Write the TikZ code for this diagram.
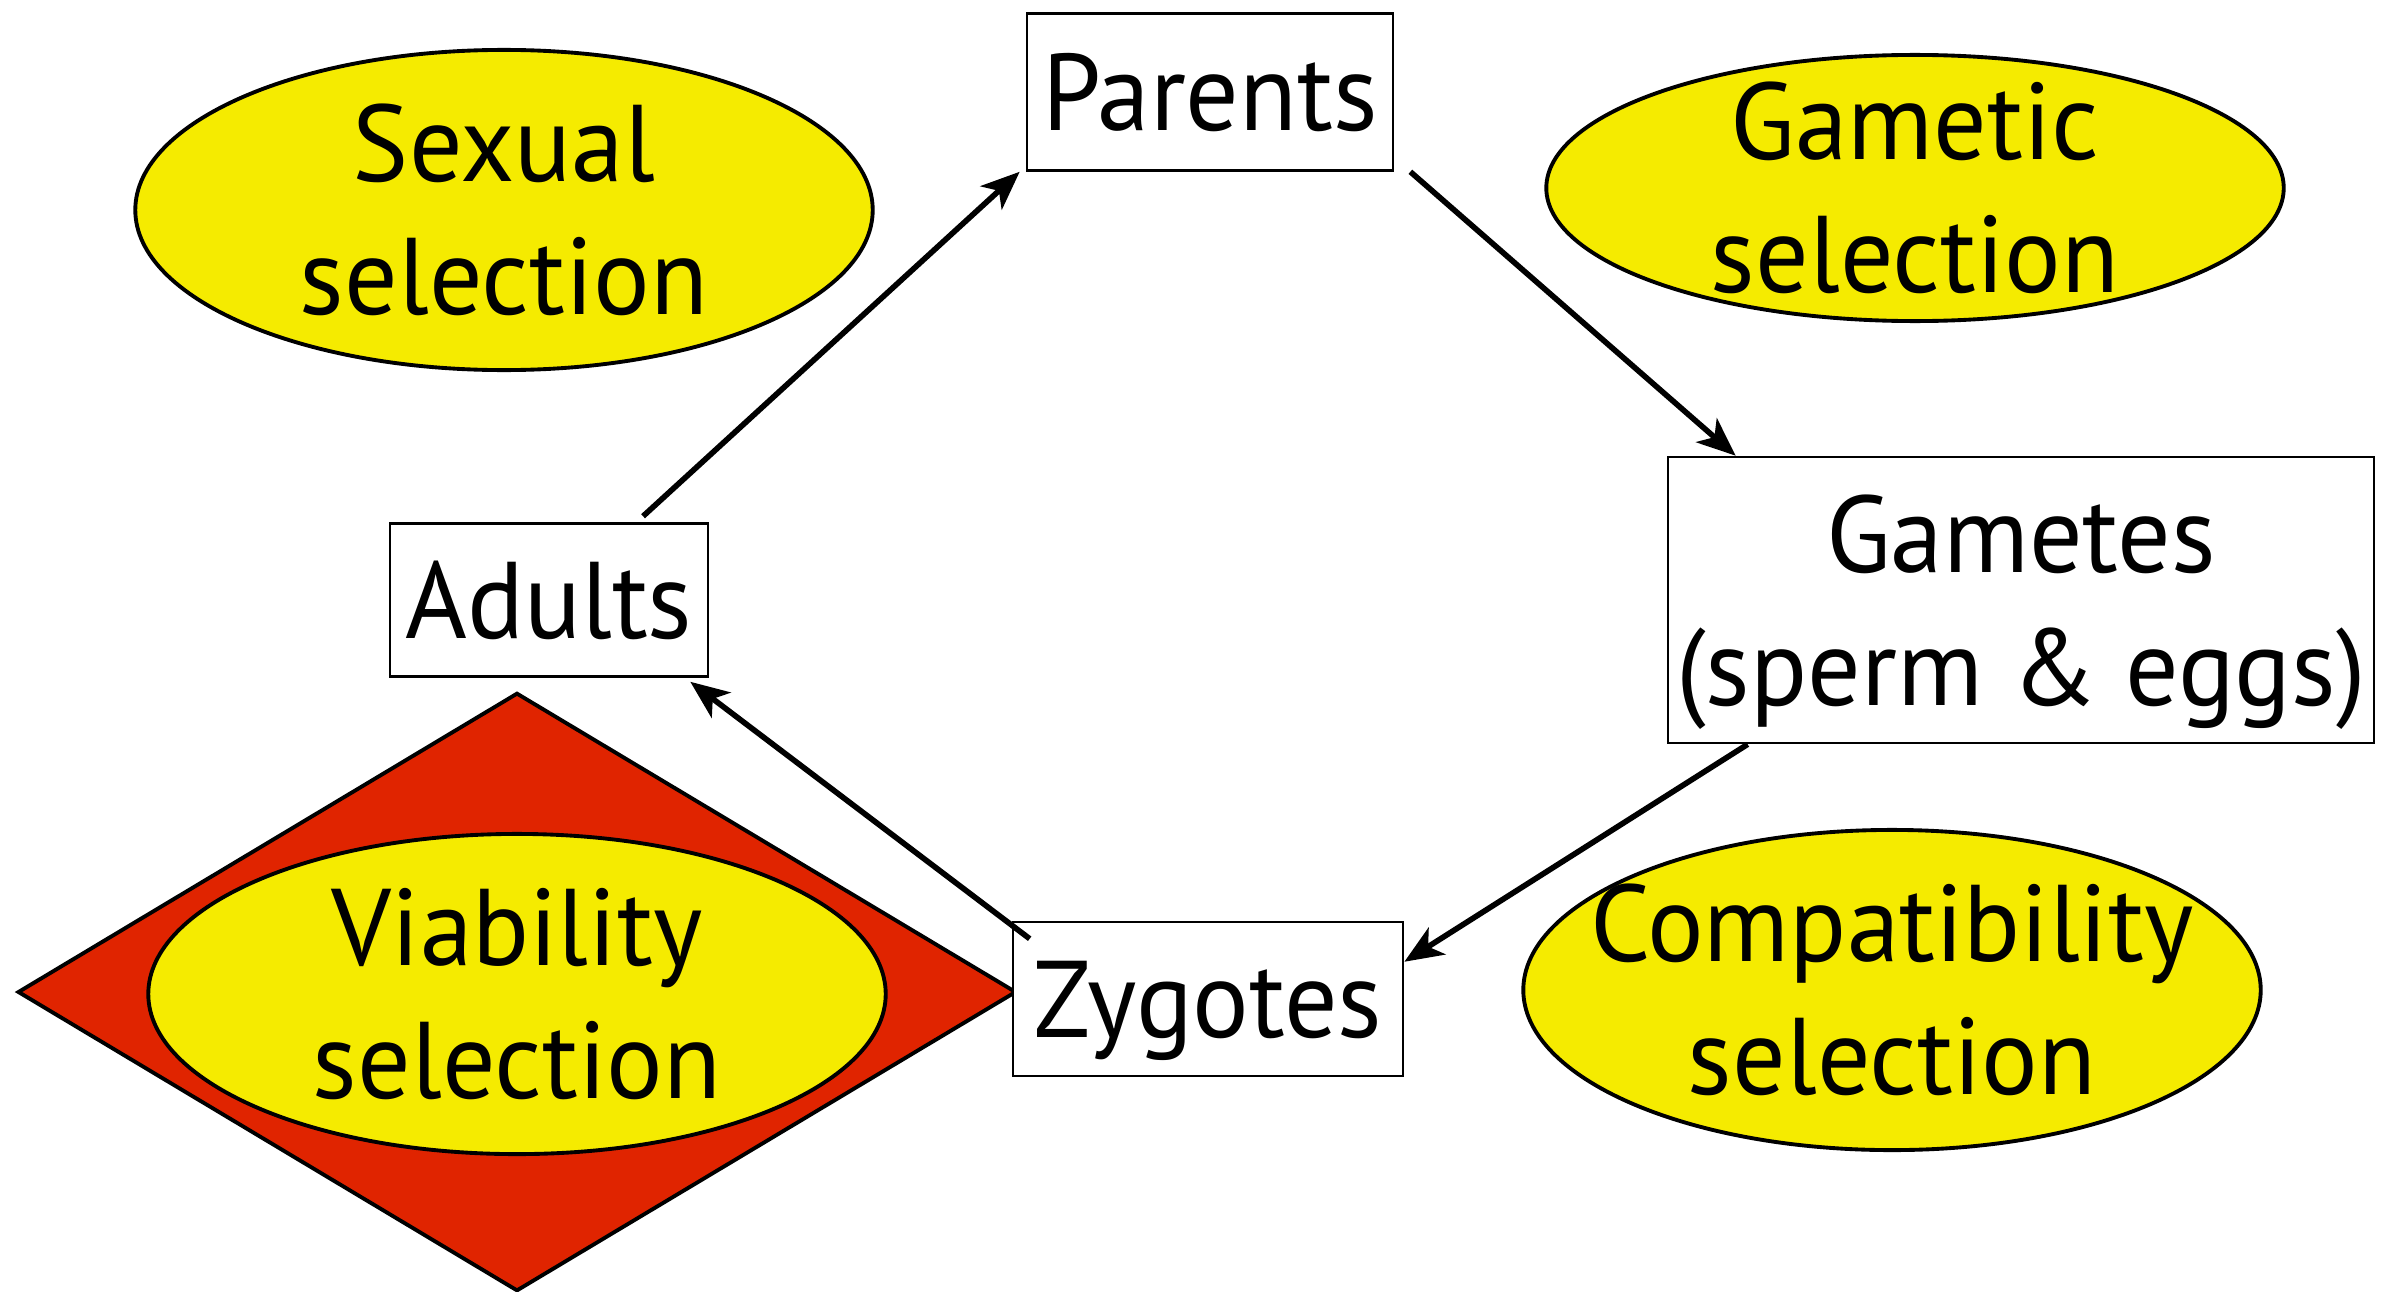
\documentclass[tikz,border=0pt]{standalone}
\usepackage{fontspec}
\setmainfont{PT Sans}[FakeStretch=0.97]
\usetikzlibrary{shapes.geometric,arrows.meta}
\definecolor{selyellow}{RGB}{245,235,0}
\definecolor{selred}{RGB}{224,36,0}
\newcommand{\bigfont}{\fontsize{31}{38}\selectfont}
\tikzset{
  stage/.style={draw, fill=white, line width=0.7pt, inner sep=0pt, text depth=0pt, align=center, font=\bigfont},
  selection/.style={ellipse, draw, fill=selyellow, line width=1.1pt, inner xsep=-1.2cm, inner ysep=-0.4cm,
    align=center, font=\bigfont, minimum width=7.37cm, minimum height=3.2cm},
  flow/.style={line width=1.6pt, -{Stealth[length=11pt,width=9pt,inset=3pt]}}
}
\begin{document}
\begin{tikzpicture}[x=0.01cm, y=-0.01cm]
	\useasboundingbox (0,0) rectangle (2389,1291);
	% selection pressures
	\node[diamond, draw, fill=selred, line width=1.1pt, inner sep=0pt,
	      minimum width=9.98cm, minimum height=5.98cm] (viadiamond) at (517,992) {};
	\node[selection] (sexual)    at (504,210)  {Sexual\\selection};
	\node[selection, minimum height=2.66cm] (gametic) at (1915,188) {Gametic\\selection};
	\node[selection] (compat)    at (1892,990) {Compatibility\\selection};
	\node[selection] (viability) at (517,994)  {Viability\\selection};
	% life cycle stages
	\node[stage, minimum width=3.66cm, minimum height=1.57cm] (parents) at (1210,92)  {Parents};
	\node[stage, minimum width=7.06cm, minimum height=2.86cm] (gametes) at (2021,600) {Gametes\\(sperm \& eggs)};
	\node[stage, minimum width=3.90cm, minimum height=1.54cm] (zygotes) at (1208,999) {Zygotes};
	\node[stage, minimum width=3.18cm, minimum height=1.53cm] (adults)  at (549,600)  {Adults};
	\draw[flow] ([xshift=0.94cm,yshift=0.06cm]adults.north) -- ([xshift=-0.06cm]parents.south west);
	\draw[flow] ([xshift=0.16cm]parents.south east) -- ([xshift=0.69cm]gametes.north west);
	\draw[flow] ([xshift=0.81cm]gametes.south west) -- ([yshift=-0.41cm]zygotes.north east);
	\draw[flow] ([xshift=0.18cm,yshift=-0.18cm]zygotes.north west) -- ([xshift=-0.19cm,yshift=-0.04cm]adults.south east);
\end{tikzpicture}
\end{document}
